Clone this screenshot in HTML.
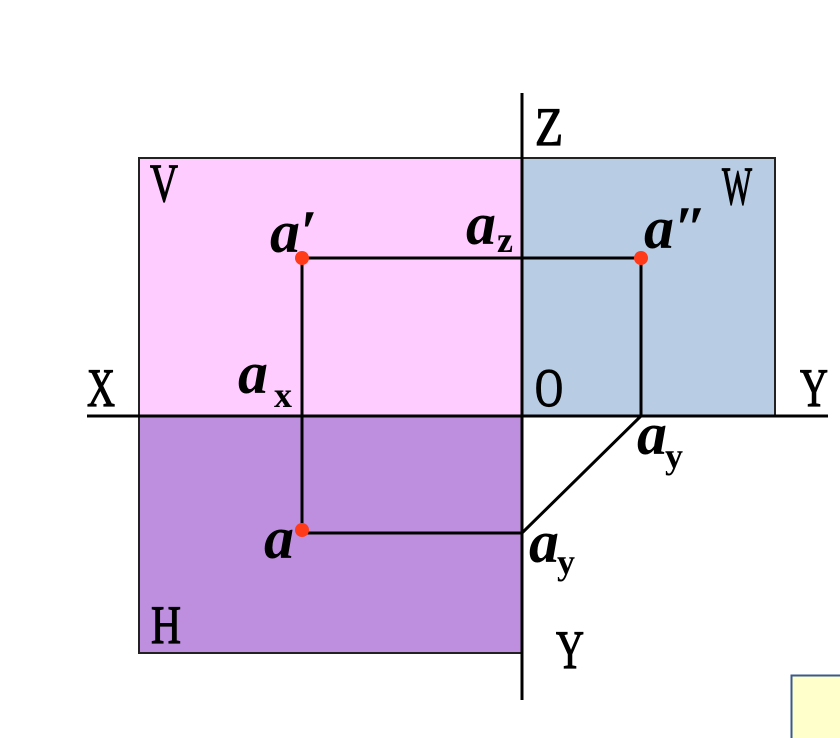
<!DOCTYPE html>
<html><head><meta charset="utf-8"><style>
html,body{margin:0;padding:0;background:#fff;width:840px;height:738px;overflow:hidden}
svg{display:block}
.lbl{font-family:"Liberation Serif",serif;fill:#000;stroke:#000;stroke-width:1.2}
.it{font-family:"Liberation Serif",serif;font-style:italic;font-weight:bold;fill:#000}
.sub{font-family:"Liberation Serif",serif;font-weight:bold;fill:#000}
</style></head><body>
<svg width="840" height="738" viewBox="0 0 840 738">
<rect x="139" y="158" width="383" height="258" fill="#ffccff" stroke="#222" stroke-width="2"/>
<rect x="522" y="158" width="253" height="258" fill="#b8cce4" stroke="#222" stroke-width="2"/>
<rect x="139" y="416" width="383" height="237" fill="#bf8fdf" stroke="#222" stroke-width="2"/>
<line x1="87" y1="416" x2="828" y2="416" stroke="#000" stroke-width="3"/>
<line x1="522" y1="93" x2="522" y2="700" stroke="#000" stroke-width="3"/>
<g stroke="#000" stroke-width="3" fill="none">
<polyline points="302,533 302,258 641,258 641,416 522,533 302,533"/>
</g>
<circle cx="302" cy="258" r="7" fill="#ff3b1a"/>
<circle cx="641" cy="258" r="7" fill="#ff3b1a"/>
<circle cx="302" cy="530" r="7" fill="#ff3b1a"/>
<g class="lbl" font-size="54">
<text x="150" y="201" textLength="28" lengthAdjust="spacingAndGlyphs">V</text>
<text x="722" y="204" textLength="30" lengthAdjust="spacingAndGlyphs">W</text>
<text x="535" y="145" textLength="28" lengthAdjust="spacingAndGlyphs">Z</text>
<text x="87" y="406" textLength="28" lengthAdjust="spacingAndGlyphs">X</text>
<text x="800" y="406" textLength="28" lengthAdjust="spacingAndGlyphs">Y</text>
<text x="535" y="406" textLength="28" lengthAdjust="spacingAndGlyphs">O</text>
<text x="151" y="643" textLength="30" lengthAdjust="spacingAndGlyphs">H</text>
<text x="556" y="668" textLength="28" lengthAdjust="spacingAndGlyphs">Y</text>
</g>
<g font-size="60">
<text class="it" x="270" y="252">a′</text>
<text class="it" x="466" y="244">a</text>
<text class="sub" x="497" y="252" font-size="36">z</text>
<text class="it" x="644" y="248">a″</text>
<text class="it" x="238" y="393">a</text>
<text class="sub" x="274" y="407" font-size="36">x</text>
<text class="it" x="637" y="454">a</text>
<text class="sub" x="665" y="468" font-size="36">y</text>
<text class="it" x="264" y="558">a</text>
<text class="it" x="529" y="562">a</text>
<text class="sub" x="557" y="574" font-size="36">y</text>
</g>
<rect x="791.5" y="675.5" width="60" height="70" fill="#ffffcc" stroke="#3a5a8c" stroke-width="2"/>
</svg>
</body></html>
